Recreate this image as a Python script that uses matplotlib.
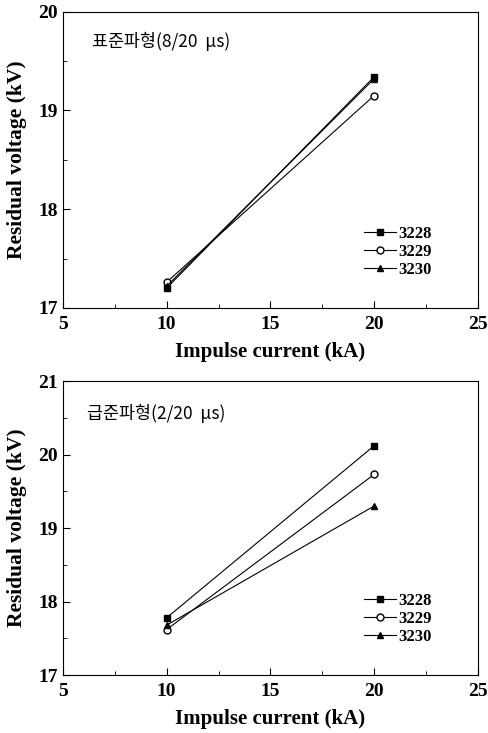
import matplotlib.pyplot as plt
from matplotlib.ticker import MultipleLocator

# Data
current = [10, 20]
labels = ["3228", "3229", "3230"]
std_wave = {"3228": [17.20, 19.34], "3229": [17.26, 19.15], "3230": [17.22, 19.32]}
fast_wave = {"3228": [17.78, 20.12], "3229": [17.62, 19.73], "3230": [17.68, 19.30]}

markers = {"3228": ("s", "black"), "3229": ("o", "white"), "3230": ("^", "black")}

plt.rcParams['font.family'] = ['Liberation Serif', 'Noto Sans CJK KR']
plt.rcParams['font.weight'] = 'bold'


def draw(ax, data, ylim, title, title_pos, leg_y):
    for name in labels:
        m, fc = markers[name]
        ax.plot(current, data[name], color='black', lw=0.8, marker=m,
                markerfacecolor=fc, markeredgecolor='black', markersize=5,
                label=name)
    ax.set_xlim(5, 25)
    ax.set_ylim(*ylim)
    ax.xaxis.set_major_locator(MultipleLocator(5))
    ax.xaxis.set_minor_locator(MultipleLocator(2.5))
    ax.yaxis.set_major_locator(MultipleLocator(1))
    ax.yaxis.set_minor_locator(MultipleLocator(0.5))
    ax.tick_params(which='both', direction='in', labelsize=14)
    ax.tick_params(axis='x', pad=6)
    ax.tick_params(which='major', length=5)
    ax.tick_params(which='minor', length=3)
    ax.set_xlabel("Impulse current (kA)", fontsize=15, fontweight='bold',
                  labelpad=6)
    ax.set_ylabel("Residual voltage (kV)", fontsize=15.5, fontweight='bold',
                  labelpad=8)
    ax.text(title_pos[0], title_pos[1], title, transform=ax.transAxes,
            fontsize=12.5, fontweight='normal', va='center',
            family=['Noto Sans CJK KR', 'Liberation Serif'])
    leg = ax.legend(loc='center right', bbox_to_anchor=(0.91, leg_y),
                    frameon=False, fontsize=12, handlelength=1.9,
                    handletextpad=0.15, labelspacing=0.12, borderpad=0.0)
    for t in leg.get_texts():
        t.set_fontweight('bold')


fig = plt.figure(figsize=(4.88, 7.33), dpi=100)
ax1 = fig.add_axes([0.129, 0.580, 0.850, 0.404])
ax2 = fig.add_axes([0.129, 0.079, 0.850, 0.401])
draw(ax1, std_wave, (17, 20), "표준파형(8/20  μs)", (0.07, 0.899), 0.19)
draw(ax2, fast_wave, (17, 21), "급준파형(2/20  μs)", (0.058, 0.891), 0.19)
fig.savefig("out.png", dpi=100)
